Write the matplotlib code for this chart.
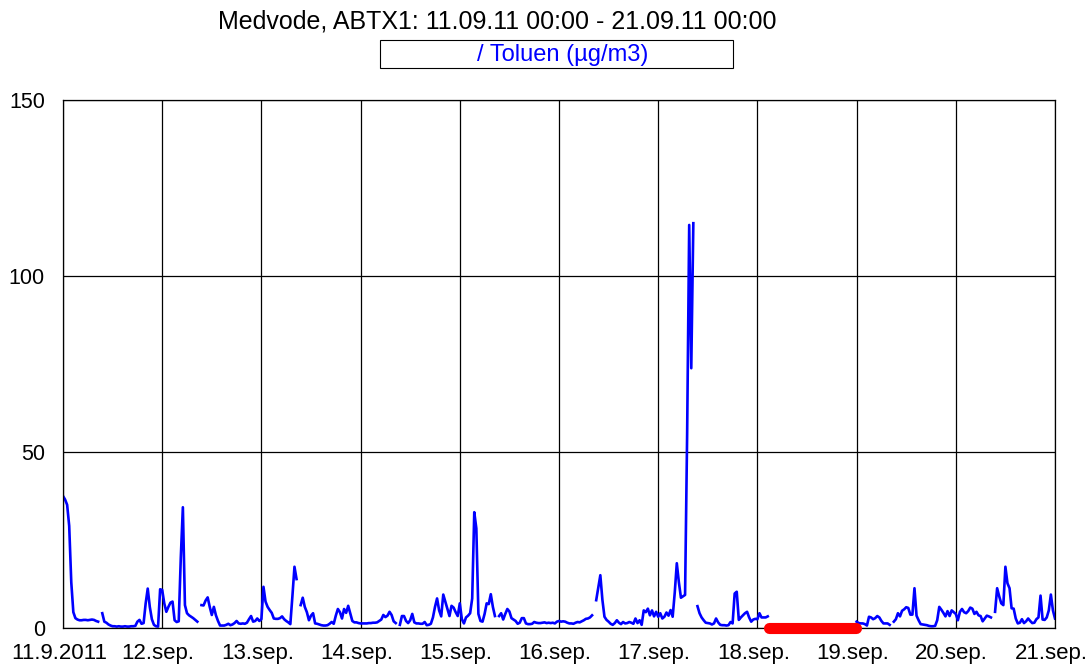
import numpy as np
import matplotlib
matplotlib.use('Agg')
import matplotlib.pyplot as plt
import matplotlib.transforms as mtransforms
from matplotlib.patches import Rectangle

plt.rcParams['font.family'] = ['Liberation Sans', 'DejaVu Sans']

nan = np.nan

# Toluen, polurne vrednosti (48 na dan), 11.9.2011 00:00 - 21.9.2011 00:00
day_11 = [37.5, 36.5, 35.0, 29.0, 13.0, 4.5, 2.8, 2.4, 2.2, 2.2, 2.3, 2.3, 2.2, 2.3, 2.4, 2.3, 2.0, 1.8,
          nan, 4.2, 1.8, 1.5, 1.0, 0.7,
          0.5, 0.5, 0.4, 0.5, 0.4, 0.4, 0.5, 0.4, 0.4, 0.5, 0.5,
          0.6, 1.8, 2.3, 1.2, 1.4, 7.0, 11.2, 6.0, 2.5, 0.9, 0.5, 0.4, 11.0]
day_12 = [10.8, 7.0, 4.6, 6.0, 7.2, 7.5, 2.2, 1.7, 1.9, 20.0, 34.3, 6.5, 4.2, 3.6, 3.2, 2.8, 2.3, 1.8,
          nan,
          6.5, 6.4, 7.8, 8.7, 6.0, 3.7, 6.0, 3.6, 2.0, 0.7, 0.7, 0.7, 0.9, 1.2, 0.8,
          1.0, 1.4, 2.0, 1.3, 1.2, 1.3, 1.2, 1.5, 2.5, 3.4, 1.8, 2.0, 2.7, 2.0]
day_13 = [2.5, 11.7, 7.5, 6.0, 5.1, 4.3, 2.7, 2.6, 2.6, 2.8, 3.3, 2.5, 2.0, 1.6, 1.1, 9.0, 17.4, 13.9,
          nan,
          6.5, 8.6, 6.0, 4.5, 2.2, 3.5, 4.2, 1.3, 1.2, 1.0, 0.8, 0.7, 0.7, 0.8, 1.2,
          1.7, 1.2, 3.5, 5.4, 4.5, 2.7, 5.4, 4.3, 6.3, 4.2, 2.0, 1.6, 1.6, 1.4]
day_14 = [1.3, 1.3, 1.3, 1.3, 1.4, 1.4, 1.5, 1.5, 1.6, 2.0, 2.4, 3.7, 3.1, 3.5, 4.6, 3.7, 1.9, 1.4,
          nan,
          0.9, 3.4, 3.4, 2.0, 1.4, 2.2, 4.0, 1.6, 1.3, 1.3, 1.2, 1.2, 1.7, 0.8, 0.9,
          1.2, 3.0, 6.0, 8.4, 5.0, 3.3, 9.5, 7.5, 5.5, 3.4, 6.3, 5.8, 4.5, 3.4]
day_15 = [7.0, 2.5, 1.3, 3.0, 3.5, 4.2, 8.4, 32.9, 28.3, 4.0, 2.0, 1.8, 4.0, 7.0, 6.8, 9.6, 6.0, 3.4,
          nan,
          3.4, 4.2, 2.4, 4.0, 5.4, 4.7, 2.8, 2.4, 2.0, 1.2, 1.5, 2.8, 2.8, 1.3, 1.1,
          1.1, 1.2, 1.7, 1.5, 1.4, 1.4, 1.5, 1.6, 1.4, 1.5, 1.4, 1.5, 1.3, 1.8]
day_16 = [2.0, 1.8, 1.9, 1.8, 1.5, 1.3, 1.3, 1.2, 1.5, 1.7, 1.6, 1.9, 2.2, 2.6, 2.7, 3.0, 3.6,
          nan,
          7.9, 11.5, 15.0, 8.0, 3.2, 2.3, 1.8, 1.2, 0.9, 1.4, 2.2, 1.5, 1.1, 1.7, 1.3,
          1.4, 1.7, 1.5, 1.2, 2.7, 1.4, 2.2, 0.9, 5.0, 4.5, 5.5, 3.6, 5.0, 3.3, 4.6]
day_17 = [3.2, 4.2, 2.7, 3.2, 4.4, 3.5, 5.1, 3.2, 10.0, 18.4, 13.0, 8.6, 9.0, 9.4, 55.0, 114.5, 73.8, 115.0,
          nan,
          6.2, 4.2, 3.0, 2.2, 1.5, 1.4, 1.3, 1.0, 1.3, 2.7, 1.6, 0.9, 0.8, 0.8, 0.7,
          0.8, 1.7, 1.3, 9.8, 10.3, 2.3, 3.0, 3.6, 4.2, 4.6, 3.0, 1.8, 2.4, 2.6]
day_18 = [2.5, 4.2, 3.0, 3.0, 3.0, 3.3] + [nan] * 42
day_19 = [1.8, 1.4, 1.3, 1.3, 1.1, 0.7, 3.2, 3.0, 2.5, 2.8, 3.4, 3.0, 2.0, 1.3, 1.3, 1.3, 0.9,
          nan,
          1.8, 2.5, 4.2, 3.3, 4.9, 5.3, 5.9, 5.7, 3.8, 3.8, 11.3, 3.5, 2.2, 1.1, 1.0,
          0.9, 0.8, 0.6, 0.5, 0.5, 0.6, 2.2, 6.0, 5.2, 4.3, 3.3, 4.8, 3.4, 5.0, 4.5]
day_20 = [4.0, 2.2, 4.6, 5.4, 4.5, 4.2, 4.8, 5.8, 5.5, 4.0, 4.6, 3.6, 3.4, 1.9, 2.7, 3.5, 3.3, 3.0,
          nan,
          4.6, 11.3, 9.0, 7.0, 6.5, 17.4, 12.7, 11.3, 5.6, 5.5, 2.7, 1.3, 1.5, 2.5, 1.4,
          1.9, 2.7, 2.0, 1.4, 1.5, 2.5, 3.0, 9.2, 2.4, 2.3, 3.0, 5.0, 9.5, 5.0]
day_21 = [2.7]

toluen = np.array(day_11 + day_12 + day_13 + day_14 + day_15 + day_16 +
                  day_17 + day_18 + day_19 + day_20 + day_21)
ure = np.arange(len(toluen)) * 0.5

# obdobje brez podatkov (ure od zacetka)
manjka_od = 170.7
manjka_do = 191.8

x_oznake = ['11.9.2011', '12.sep.', '13.sep.', '14.sep.', '15.sep.', '16.sep.',
            '17.sep.', '18.sep.', '19.sep.', '20.sep.', '21.sep.']
y_oznake = [0, 50, 100, 150]

fig = plt.figure(figsize=(10.89, 6.69), dpi=100)
ax = fig.add_axes([63 / 1089, 1 - 628 / 669, 992 / 1089, 528 / 669])

ax.plot(ure, toluen, color='#0000ff', lw=1.9)
ax.plot([manjka_od, manjka_do], [0, 0], color='#ff0000', lw=8,
        solid_capstyle='round', clip_on=False, zorder=5)

ax.set_xlim(0, 240)
ax.set_ylim(0, 150)
ax.set_xticks(np.arange(0, 241, 24))
ax.set_xticklabels(x_oznake)
ax.set_yticks(y_oznake)
ax.grid(True, color='black', lw=0.9)
ax.set_axisbelow(True)
for s in ax.spines.values():
    s.set_color('black')
    s.set_linewidth(0.9)
ax.tick_params(axis='both', length=0, labelsize=15.5)
ax.tick_params(axis='x', pad=11, labelsize=16)
ax.tick_params(axis='y', pad=13)

# oznake na x osi malo levo od crte
premik = mtransforms.ScaledTranslation(-4 / 100, 0, fig.dpi_scale_trans)
for lab in ax.get_xticklabels():
    lab.set_transform(lab.get_transform() + premik)

fig.text(497 / 1089, 1 - 22 / 669, 'Medvode, ABTX1: 11.09.11 00:00 - 21.09.11 00:00',
         ha='center', va='center', fontsize=18)
fig.patches.append(Rectangle((380 / 1089, 1 - 68 / 669), 353 / 1089, 28 / 669,
                             transform=fig.transFigure, fill=False,
                             edgecolor='black', lw=0.8))
fig.text(563 / 1089, 1 - 55 / 669, '/ Toluen (µg/m3)', color='#0000ff',
         ha='center', va='center', fontsize=17)

fig.savefig('out.png', dpi=100)
